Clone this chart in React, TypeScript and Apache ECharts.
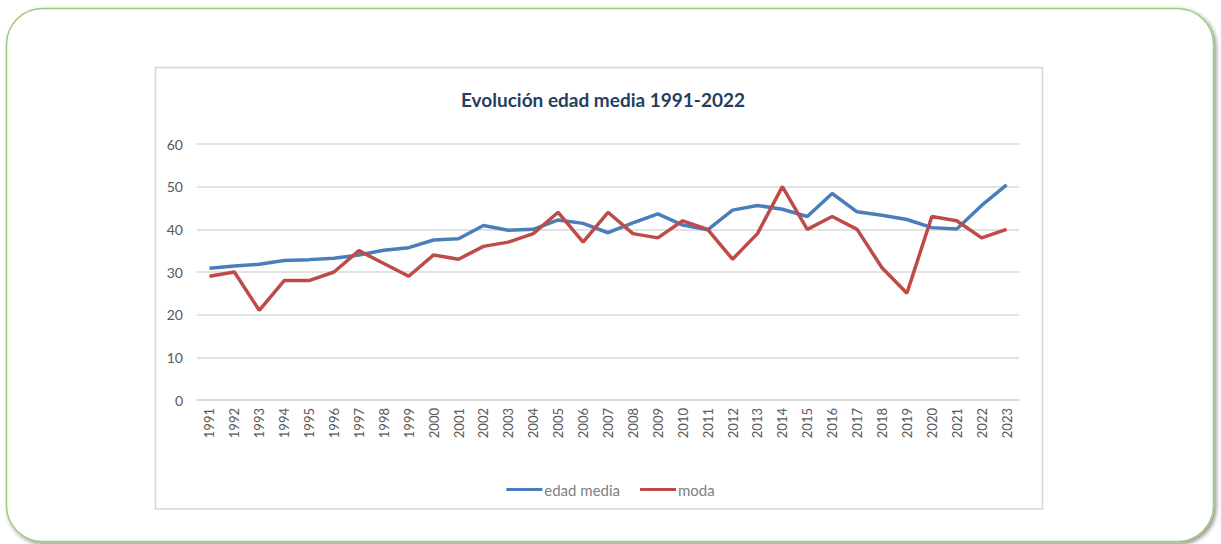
import React, { useEffect, useRef } from "react";
import * as echarts from "echarts";

const years = [
  "1991", "1992", "1993", "1994", "1995", "1996", "1997", "1998", "1999", "2000",
  "2001", "2002", "2003", "2004", "2005", "2006", "2007", "2008", "2009", "2010",
  "2011", "2012", "2013", "2014", "2015", "2016", "2017", "2018", "2019", "2020",
  "2021", "2022", "2023",
];

const edadMedia = [
  30.9, 31.4, 31.8, 32.7, 32.9, 33.2, 34.0, 35.1, 35.7, 37.5,
  37.8, 40.9, 39.8, 40.0, 42.2, 41.4, 39.2, 41.5, 43.6, 41.0,
  39.9, 44.5, 45.6, 44.7, 43.0, 48.4, 44.1, 43.3, 42.3, 40.4,
  40.1, 45.6, 50.4,
];

const moda = [
  29, 30, 21, 28, 28, 30, 35, 32, 29, 34,
  33, 36, 37, 39, 44, 37, 44, 39, 38, 42,
  40, 33, 39, 50, 40, 43, 40, 31, 25, 43,
  42, 38, 40,
];

const titleText = "Evolución edad media 1991-2022";
const seriesNames = ["edad media", "moda"];

export default function App() {
  const ref = useRef<HTMLDivElement>(null);
  useEffect(() => {
    if (!ref.current) return;
    const chart = echarts.init(ref.current, undefined, { renderer: "svg" });
    const font = "Lato, 'Open Sans', sans-serif";
    chart.setOption({
      animation: false,
      backgroundColor: "#ffffff",
      textStyle: { fontFamily: font },
      graphic: [
        {
          type: "rect",
          z: -10,
          shape: { x: 6.5, y: 8.5, width: 1207, height: 533, r: 36 },
          style: {
            fill: "#ffffff",
            stroke: "#9ccc7a",
            lineWidth: 1.5,
            shadowBlur: 4,
            shadowOffsetX: 2,
            shadowOffsetY: 2,
            shadowColor: "rgba(0,0,0,0.45)",
          },
        },
        {
          type: "rect",
          z: -9,
          shape: { x: 155.5, y: 67.5, width: 887, height: 441.5 },
          style: {
            fill: "#ffffff",
            stroke: "#d6d6d6",
            lineWidth: 1.5,
          },
        },
      ],
      title: {
        text: titleText,
        left: 598,
        textAlign: "center",
        top: 85,
        textStyle: {
          fontFamily: font,
          fontSize: 19,
          fontWeight: "bold",
          color: "#243f60",
        },
      },
      legend: {
        data: seriesNames,
        left: "center",
        top: 477,
        itemWidth: 36,
        itemHeight: 3,
        itemGap: 20,
        icon: "rect",
        textStyle: { color: "#808080", fontSize: 15, fontFamily: font, padding: [0, 0, 0, -3] },
      },
      grid: { left: 197, right: 202, top: 144, bottom: 144 },
      xAxis: {
        type: "category",
        data: years,
        boundaryGap: true,
        axisLine: { lineStyle: { color: "#d9d9d9", width: 1.5 } },
        axisTick: { show: false },
        axisLabel: {
          rotate: 90,
          color: "#595959",
          fontSize: 13,
          margin: 8,
          interval: 0,
          fontFamily: font,
        },
      },
      yAxis: {
        type: "value",
        min: 0,
        max: 60,
        interval: 10,
        axisLine: { show: false },
        axisTick: { show: false },
        axisLabel: { color: "#595959", fontSize: 14, margin: 14, fontFamily: font },
        splitLine: { lineStyle: { color: "#d9d9d9", width: 1.5 } },
      },
      series: [
        {
          name: seriesNames[0],
          type: "line",
          data: edadMedia,
          symbol: "none",
          lineStyle: { color: "#4a7ebb", width: 3.5 },
          itemStyle: { color: "#4a7ebb" },
        },
        {
          name: seriesNames[1],
          type: "line",
          data: moda,
          symbol: "none",
          lineStyle: { color: "#be4b48", width: 3.5 },
          itemStyle: { color: "#be4b48" },
        },
      ],
    });
    return () => chart.dispose();
  }, []);
  return (
    <div
      ref={ref}
      style={{ position: "fixed", left: 0, top: 0, width: 1221, height: 544 }}
    />
  );
}
